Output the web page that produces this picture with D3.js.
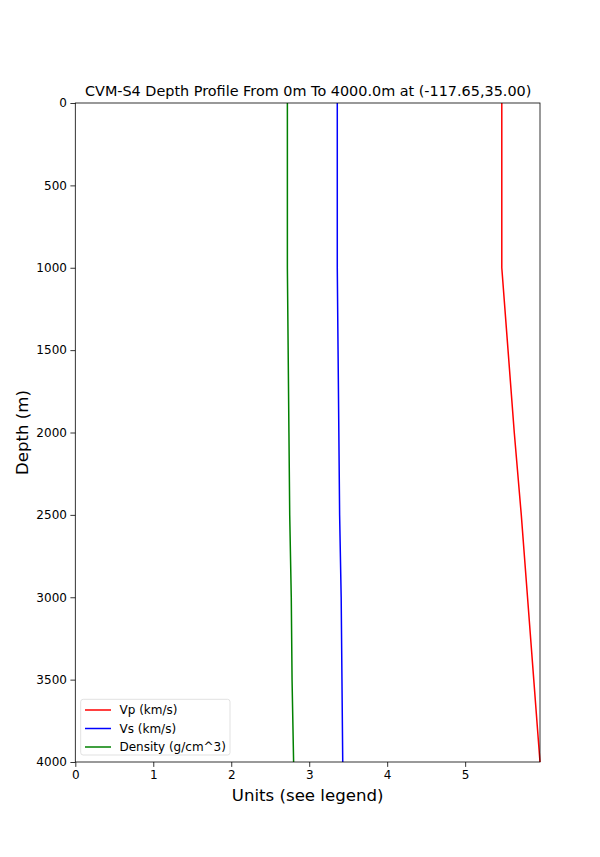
<!DOCTYPE html>
<html><head><meta charset="utf-8">
<script src="https://cdn.jsdelivr.net/npm/d3@7"></script>
<style>body{margin:0;background:#fff}svg{display:block}text{font-family:"DejaVu Sans",sans-serif}</style>
</head><body><svg id="c" width="600" height="857"></svg>
<script>
const depths = [0, 500, 1000, 1500, 2000, 2500, 3000, 3500, 4000];
const vp = [5.47, 5.47, 5.47, 5.55, 5.63, 5.72, 5.80, 5.88, 5.96];
const vs = [3.36, 3.36, 3.36, 3.37, 3.38, 3.39, 3.41, 3.42, 3.43];
const density = [2.72, 2.72, 2.72, 2.73, 2.74, 2.75, 2.77, 2.78, 2.80];
const xTicks = [0, 1, 2, 3, 4, 5];
const yTicks = [0, 500, 1000, 1500, 2000, 2500, 3000, 3500, 4000];
const seriesNames = ["Vp (km/s)", "Vs (km/s)", "Density (g/cm^3)"];
const seriesColors = ["#ff0000", "#0000ff", "#008000"];
const title = "CVM-S4 Depth Profile From 0m To 4000.0m at (-117.65,35.00)";

const svg = d3.select("#c");
const L = 75.3, R = 540, T = 103, B = 762;
const x = d3.scaleLinear().domain([0, 5.96]).range([L, R]);
const y = d3.scaleLinear().domain([0, 4000]).range([T, B]);

const series = [vp, vs, density];
const line = d3.line().x(d => x(d[0])).y(d => y(d[1]));
series.forEach((s, i) => {
  svg.append("path").attr("d", line(s.map((v, j) => [v, depths[j]])))
    .attr("fill", "none").attr("stroke", seriesColors[i]).attr("stroke-width", 1.5);
});

// frame
svg.append("rect").attr("x", L).attr("y", T).attr("width", R - L).attr("height", B - T)
  .attr("fill", "none").attr("stroke", "#000").attr("stroke-width", 0.8);

const xa = svg.append("g").attr("transform", `translate(0,${B})`)
  .call(d3.axisBottom(x).tickValues(xTicks).tickFormat(d3.format("d")).tickSize(4.9).tickPadding(3.5));
const ya = svg.append("g").attr("transform", `translate(${L},0)`)
  .call(d3.axisLeft(y).tickValues(yTicks).tickFormat(d3.format("d")).tickSize(4.9).tickPadding(3.5));
[xa, ya].forEach(a => {
  a.select(".domain").remove();
  a.selectAll("line").attr("stroke", "#000").attr("stroke-width", 0.8);
  a.selectAll("text").attr("fill", "#000").style("font-size", "12px").style("font-family", "DejaVu Sans");
});

svg.append("text").attr("x", (L + R) / 2 + 0.5).attr("y", 96).attr("text-anchor", "middle")
  .style("font-size", "14.4px").text(title);
svg.append("text").attr("x", (L + R) / 2).attr("y", 801).attr("text-anchor", "middle")
  .style("font-size", "16.6px").text("Units (see legend)");
svg.append("text").attr("transform", `translate(28,${(T + B) / 2}) rotate(-90)`).attr("text-anchor", "middle")
  .style("font-size", "16.6px").text("Depth (m)");

// legend
const lg = svg.append("g");
lg.append("rect").attr("x", 80.7).attr("y", 699.3).attr("width", 149.3).attr("height", 55.7)
  .attr("rx", 2.5).attr("fill", "#fff").attr("fill-opacity", 0.8).attr("stroke", "#d9d9d9").attr("stroke-width", 0.8);
seriesNames.forEach((n, i) => {
  const yy = 710 + i * 18.5;
  lg.append("line").attr("x1", 85).attr("x2", 111).attr("y1", yy).attr("y2", yy)
    .attr("stroke", seriesColors[i]).attr("stroke-width", 1.5);
  lg.append("text").attr("x", 119.5).attr("y", yy).attr("dy", "0.36em").style("font-size", "12px").text(n);
});
</script></body></html>
